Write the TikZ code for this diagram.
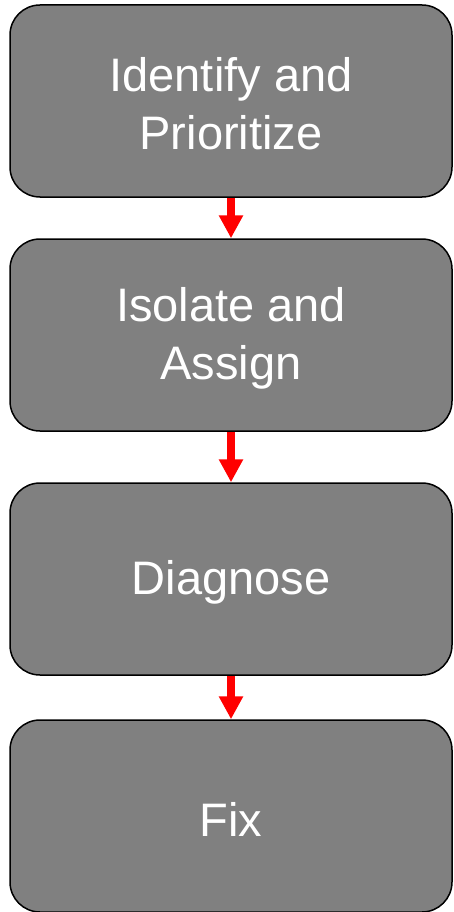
\documentclass[tikz,border=0pt]{standalone}
\usepackage{fontspec}
\setmainfont{Liberation Sans}
\usetikzlibrary{arrows.meta}
\begin{document}
\begin{tikzpicture}[x=1pt,y=-1pt,
  stepbox/.style={draw=black, line width=1.5pt, fill=black!50, rounded corners=30pt,
    minimum width=442pt, minimum height=192pt, inner sep=0pt},
  steptext/.style={label={[align=center, text=white, inner sep=0pt, yshift=-3pt,
    font=\fontsize{47}{58}\selectfont]center:#1}},
  flow/.style={draw=red, line width=8pt, -{Triangle[width=23pt,length=23pt]}}]
  \useasboundingbox (0,0) rectangle (453,912);
  \node[stepbox, steptext={Identify and\\Prioritize}] (b1) at (231,101) {};
  \node[stepbox, steptext={Isolate and\\Assign}] (b2) at (231,335) {};
  \node[stepbox, steptext={Diagnose}] (b3) at (231,579) {};
  \node[stepbox, steptext={Fix}] (b4) at (231,816) {};
  \draw[flow] (b1.south) -- (b2.north);
  \draw[flow] (b2.south) -- (b3.north);
  \draw[flow] (b3.south) -- (b4.north);
\end{tikzpicture}
\end{document}
